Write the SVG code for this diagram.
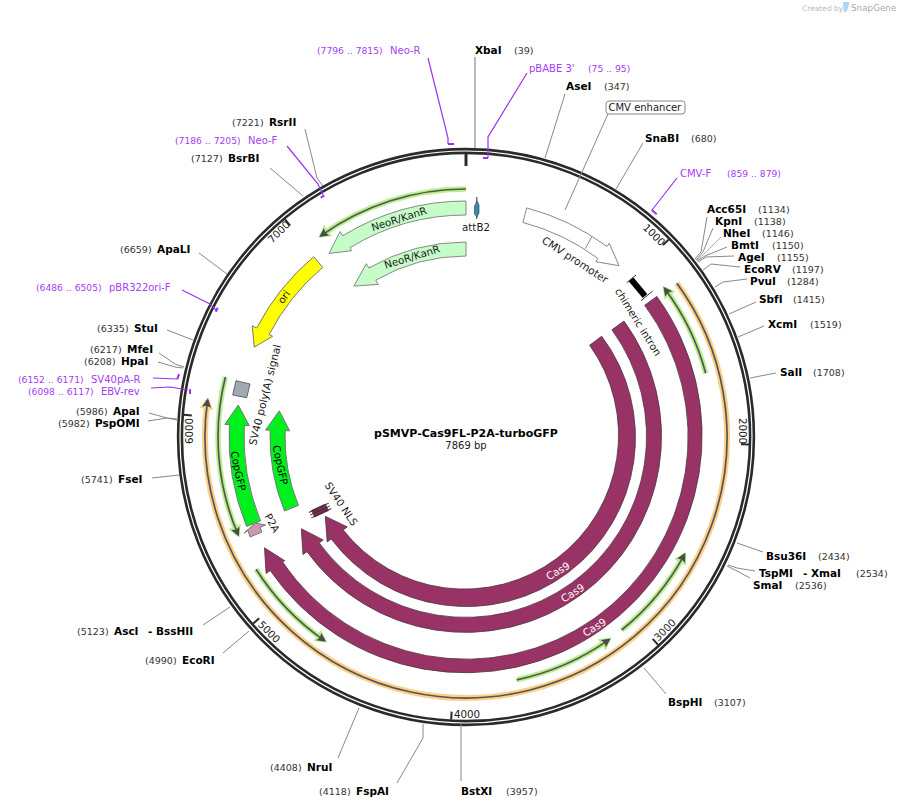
<svg xmlns="http://www.w3.org/2000/svg" width="900" height="808" viewBox="0 0 900 808">
<style>
text{font-family:"DejaVu Sans","Liberation Sans",sans-serif;font-size:10.3px;fill:#1a1a1a}
.s{font-weight:bold;font-size:10.5px;fill:#000}
.n{font-size:9.5px;fill:#333}
.p{font-size:10px;fill:#a63cf2}
.pn{font-size:9.2px;fill:#a63cf2}
.m{text-anchor:middle}
.lead{fill:none;stroke:#888;stroke-width:1}
.pl{fill:none;stroke:#9b30f0;stroke-width:1.2}
.pb{fill:none;stroke:#9b30f0;stroke-width:2}
.tick{stroke:#2a2a2a;stroke-width:2}
.cas{fill:#993366;stroke:#4a3340;stroke-width:.8}
.neo{fill:#c6fcc8;stroke:#888;stroke-width:1}
.gfp{fill:#00f01e;stroke:#777;stroke-width:1}
.ghalo{fill:none;stroke:#b8f08c;stroke-width:5.5;marker-end:url(#hg)}
.ohalo{fill:none;stroke:#fdd089;stroke-width:6;marker-end:url(#ho)}
.line{fill:none;stroke:#555;stroke-width:1.7;marker-end:url(#hd)}
</style>
<defs>
<marker id="hd" markerUnits="userSpaceOnUse" markerWidth="12" markerHeight="12" refX="7" refY="4.5" orient="auto"><path d="M0,0 L9,4.5 L0,9 L1.5,4.5 Z" fill="#4a4a4a"/></marker>
<marker id="hg" markerUnits="userSpaceOnUse" markerWidth="20" markerHeight="20" refX="9" refY="7" orient="auto"><path d="M0,0 L12,7 L0,14 Z" fill="#b8f08c"/></marker>
<marker id="ho" markerUnits="userSpaceOnUse" markerWidth="20" markerHeight="20" refX="9" refY="7" orient="auto"><path d="M0,0 L12,7 L0,14 Z" fill="#fdd089"/></marker>
</defs>
<rect width="900" height="808" fill="#fff"/>
<g id="watermark">
<text x="802" y="11" style="font-size:7.5px;fill:#b9b9b9">Created by</text>
<path d="M843,2 L849,2 Q849,8 846,12 L844,12 Z" fill="#a8d8f0"/>
<text x="851" y="11" style="font-size:8.8px;fill:#aaa">SnapGene</text>
</g>
<g id="backbone">
<circle cx="466" cy="437" r="286" fill="none" stroke="#2a2a2a" stroke-width="6.4"/>
<circle cx="466" cy="437" r="286" fill="none" stroke="#fff" stroke-width="1.2"/>
<line x1="466" y1="154" x2="466" y2="166" stroke="#2a2a2a" stroke-width="3"/>
<line class="tick" x1="466" y1="154" x2="466" y2="162" transform="rotate(45.75 466 437)"/>
<line class="tick" x1="466" y1="154" x2="466" y2="162" transform="rotate(91.5 466 437)"/>
<line class="tick" x1="466" y1="154" x2="466" y2="162" transform="rotate(137.25 466 437)"/>
<line class="tick" x1="466" y1="154" x2="466" y2="162" transform="rotate(183 466 437)"/>
<line class="tick" x1="466" y1="154" x2="466" y2="162" transform="rotate(228.75 466 437)"/>
<line class="tick" x1="466" y1="154" x2="466" y2="162" transform="rotate(274.5 466 437)"/>
<line class="tick" x1="466" y1="154" x2="466" y2="162" transform="rotate(320.25 466 437)"/>
<text class="m" transform="translate(654,235) rotate(45)" y="3.5">1000</text>
<text class="m" transform="translate(742,431) rotate(90)" y="3.5">2000</text>
<text class="m" transform="translate(665,630) rotate(-45)" y="3.5">3000</text>
<text class="m" transform="translate(467,714)" y="3.5">4000</text>
<text class="m" transform="translate(269,632) rotate(45)" y="3.5">5000</text>
<text class="m" transform="translate(189,431) rotate(-90)" y="3.5">6000</text>
<text class="m" transform="translate(279,232) rotate(-45)" y="3.5">7000</text>
</g>
<g id="connectors">
<polyline points="475,57 475,148" fill="none" stroke="#aaa" stroke-width="1.6"/>
<polyline class="lead" points="565,94 545,158"/>
<polyline class="lead" points="608,114 565,210"/>
<polyline class="lead" points="643,143 616,189"/>
<polyline class="lead" points="707,217 701,252 695,259"/>
<polyline class="lead" points="713,228 703,252 696,260"/>
<polyline class="lead" points="721,237 704,254 697,260" style="stroke:#aaa"/>
<polyline class="lead" points="727,247 705,256 697,261"/>
<polyline class="lead" points="734,256 706,257 698,262"/>
<polyline class="lead" points="740,267 711,264 703,270"/>
<polyline class="lead" points="747,279 723,282 715,287"/>
<polyline class="lead" points="756,302 729,314"/>
<polyline class="lead" points="764,326 738,337"/>
<polyline class="lead" points="776,373 750,378"/>
<polyline class="lead" points="763,552 737,543"/>
<polyline class="lead" points="755,571 737,568 728,565"/>
<polyline class="lead" points="750,578 737,571 727,566"/>
<polyline class="lead" points="666,694 644,668"/>
<polyline class="lead" points="461,781 461,724"/>
<polyline class="lead" points="397,783 423,738 423,724"/>
<polyline class="lead" points="338,758 359,708"/>
<polyline class="lead" points="223,653 249,631"/>
<polyline class="lead" points="203,625 230,607"/>
<polyline class="lead" points="152,478 179,475"/>
<polyline class="lead" points="148,421 167,418 177,419"/>
<polyline class="lead" points="149,413 167,418 177,420"/>
<polyline class="lead" points="158,362 175,367 183,368"/>
<polyline class="lead" points="159,353 175,364 184,367"/>
<polyline class="lead" points="167,330 193,340"/>
<polyline class="lead" points="199,253 227,274"/>
<polyline class="lead" points="270,168 303,196"/>
<polyline class="lead" points="305,129 317,178 323,186"/>
<polyline class="pl" points="428,58 448,138 448,144"/>
<polyline class="pl" points="527,73 488,137 488,158"/>
<polyline class="pl" points="287,146 318,184 323,195"/>
<polyline class="pl" points="677,178 652,210"/>
<polyline class="pl" points="182,290 210,304 217,311"/>
<polyline class="pl" points="153,378 177,379"/>
<polyline class="pl" points="151,388 170,387 188,390"/>
</g>
<g id="f-orf1"><path class="ohalo" d="M676.9,283.2 A261,261 0 1 1 207.6,400.2"/><path class="line" d="M676.9,283.2 A261,261 0 1 1 207.6,400.2"/></g>
<g id="f-orf2"><path class="ghalo" d="M466,189 A248,248 0 0 0 320.9,235.8"/><path class="line" d="M466,189 A248,248 0 0 0 320.9,235.8"/></g>
<g id="f-orf3"><path class="ghalo" d="M705.7,373.2 A248,248 0 0 0 664.6,288.4"/><path class="line" d="M705.7,373.2 A248,248 0 0 0 664.6,288.4"/></g>
<g id="f-orf4"><path class="ghalo" d="M621.7,630 A248,248 0 0 0 684.4,554.6"/><path class="line" d="M621.7,630 A248,248 0 0 0 684.4,554.6"/></g>
<g id="f-orf5"><path class="ghalo" d="M516.7,679.8 A248,248 0 0 0 609,639.6"/><path class="line" d="M516.7,679.8 A248,248 0 0 0 609,639.6"/></g>
<g id="f-orf6"><path class="ghalo" d="M256.1,569.2 A248,248 0 0 0 324.5,640.6"/><path class="line" d="M256.1,569.2 A248,248 0 0 0 324.5,640.6"/></g>
<g id="f-orf7"><path class="ghalo" d="M225.4,377 A248,248 0 0 0 238.1,534.7"/><path class="line" d="M225.4,377 A248,248 0 0 0 238.1,534.7"/></g>
<g id="cas9-outer">
<path class="cas" d="M656.8,296.4 A237,237 0 1 1 270.2,570.6 L266.1,573.4 L264.5,547.8 L284.7,560.7 L282.6,562.1 A222,222 0 1 0 644.7,305.3 Z"/>
<text class="m" transform="translate(594.5,627.5) rotate(-31)" y="3.5" style="fill:#fff">Cas9</text>
</g>
<g id="cas9-middle">
<path class="cas" d="M624,321 A196,196 0 1 1 307,551.7 L303,554.6 L301.3,528.7 L323.2,540 L319.2,542.9 A181,181 0 1 0 611.9,329.8 Z"/>
<text class="m" transform="translate(572.7,593) rotate(-32)" y="3.5" style="fill:#fff">Cas9</text>
</g>
<g id="cas9-inner">
<path class="cas" d="M601.7,336.2 A169,169 0 0 1 331.2,538.9 L327.2,542 L325.3,516.3 L347.2,526.9 L343.2,529.9 A154,154 0 0 0 589.6,345.2 Z"/>
<text class="m" transform="translate(558,571) rotate(-30)" y="3.5" style="fill:#fff">Cas9</text>
</g>
<g id="neo-outer">
<path class="neo" d="M466,201 A236,236 0 0 0 342.7,235.8 L340.1,231.5 L329.1,253.4 L351.8,250.7 L350,247.7 A222,222 0 0 1 466,215 Z"/>
<text class="m" transform="translate(399,219) rotate(-18)" y="3.5">NeoR/KanR</text>
</g>
<g id="neo-inner">
<path class="neo" d="M466,242 A195,195 0 0 0 368.8,268 L366.3,263.6 L353.9,286.1 L378.3,284.4 L375.8,280.1 A181,181 0 0 1 466,256 Z"/>
<text class="m" transform="translate(412,257) rotate(-17)" y="3.5">NeoR/KanR</text>
</g>
<g id="ori">
<path d="M313.7,256.7 A236,236 0 0 0 256.7,328 L252.2,325.7 L254.3,347.1 L272.6,336.3 L269.1,334.5 A222,222 0 0 1 322.7,267.4 Z" fill="#ffff00" stroke="#777" stroke-width="1"/>
<text class="m" transform="translate(284,297) rotate(-54)" y="3.5">ori</text>
</g>
<g id="copgfp-outer">
<path class="gfp" d="M246.6,526.5 A237,237 0 0 1 229.3,424.6 L224.8,424.4 L238.2,405 L249.3,425.7 L244.3,425.4 A222,222 0 0 0 260.5,520.9 Z"/>
<text class="m" transform="translate(238,471) rotate(78)" y="3.5" style="fill:#000">CopGFP</text>
</g>
<g id="copgfp-inner">
<path class="gfp" d="M284.5,511 A196,196 0 0 1 270.1,430.2 L265.6,430 L279.3,410.8 L289.6,430.8 L285.1,430.7 A181,181 0 0 0 298.4,505.4 Z"/>
<text class="m" transform="translate(280,465) rotate(78)" y="3.5" style="fill:#000">CopGFP</text>
</g>
<g id="p2a">
<path d="M255.5,523 L265.5,525 L260,527.5 L262,532 L250,537 L248,530.5 L244,533 Z" fill="#cc99b3" stroke="#777" stroke-width="1"/>
<text class="m" transform="translate(272,523) rotate(62)" y="3.5">P2A</text>
</g>
<g id="sv40-nls">
<g transform="translate(320,510.5) rotate(-25)">
<rect x="-8" y="-4" width="16" height="8" fill="#7d2a58"/>
<path d="M-11,-3H11M-11,0H11M-11,3H11" stroke="#333" stroke-width="1" fill="none"/>
</g>
<text class="m" transform="translate(341,504) rotate(56)" y="3.5">SV40 NLS</text>
</g>
<g id="polya">
<polygon points="236,380.7 250,384 246.7,397.7 232.7,395" fill="#a2a9b5" stroke="#666" stroke-width="1"/>
<text class="m" transform="translate(265,395) rotate(-76)" y="3.5" style="font-size:10.6px">SV40 poly(A) signal</text>
</g>
<g id="attb2">
<line x1="476.8" y1="197" x2="476.8" y2="219" stroke="#333" stroke-width="1"/>
<polygon points="477,201 479,205 479,213 477,217 474.5,214 474.5,206" fill="#2e8fa8" stroke="#335" stroke-width=".6"/>
<text class="m" x="476" y="231">attB2</text>
</g>
<g id="cmv-promoter">
<path d="M526.7,207.9 A237,237 0 0 1 607,246.5 L609.3,243.3 L619,265.7 L595.7,261.7 L598,258.5 A222,222 0 0 0 522.9,222.4 Z" fill="#fff" stroke="#888" stroke-width="1"/>
<line x1="591.7" y1="237" x2="585.3" y2="248.7" stroke="#888" stroke-width="1"/>
<text class="m" transform="translate(575,260) rotate(33)" y="3.5" style="font-size:10.6px">CMV promoter</text>
</g>
<g id="chimeric-intron">
<line x1="631" y1="279.3" x2="645" y2="296" stroke="#000" stroke-width="6"/>
<line x1="626.7" y1="282.7" x2="636" y2="275" stroke="#333" stroke-width="1"/>
<line x1="641" y1="300.7" x2="652.7" y2="291" stroke="#333" stroke-width="1"/>
<text class="m" transform="translate(638,322) rotate(58)" y="3.5">chimeric intron</text>
</g>
<g id="cmv-enhancer">
<rect x="606" y="101" width="79" height="13" rx="3" fill="#fff" stroke="#888" stroke-width="1"/>
<text x="608.5" y="111" style="font-size:10px">CMV enhancer</text>
</g>
<g id="title">
<text class="m" x="466" y="437" style="font-weight:bold;font-size:11px;fill:#000">pSMVP-Cas9FL-P2A-turboGFP</text>
<text class="m" x="466" y="449" style="font-size:10px">7869 bp</text>
</g>
<g id="primers">
<g id="p-neor"><path class="pb" d="M448,144H454"/><text class="pn" x="317" y="54">(7796 .. 7815)</text><text class="p" x="390" y="54">Neo-R</text></g>
<g id="p-pbabe"><path class="pb" d="M483,158H488"/><text class="p" x="529" y="72">pBABE 3'</text><text class="pn" x="588" y="72">(75 .. 95)</text></g>
<g id="p-neof"><path class="pb" d="M320.7,197.7L324.3,195.7"/><text class="pn" x="175" y="144">(7186 .. 7205)</text><text class="p" x="248" y="144">Neo-F</text></g>
<g id="p-cmvf"><path class="pb" d="M651.7,210L656.7,214.3"/><text class="p" x="680" y="177">CMV-F</text><text class="pn" x="727" y="177">(859 .. 879)</text></g>
<g id="p-pbr"><path class="pb" d="M215.7,311.7L217.7,307.7"/><text class="pn" x="36" y="291">(6486 .. 6505)</text><text class="p" x="109" y="291">pBR322ori-F</text></g>
<g id="p-sv40"><path class="pb" d="M177.3,379.3L179,374"/><text class="pn" x="18" y="383">(6152 .. 6171)</text><text class="p" x="91" y="383">SV40pA-R</text></g>
<g id="p-ebv"><path class="pb" d="M190,389.3V394"/><text class="pn" x="28" y="395">(6098 .. 6117)</text><text class="p" x="101" y="395">EBV-rev</text></g>
</g>
<g id="sites">
<g id="s-xbai"><text class="s" x="475" y="54">XbaI</text><text class="n" x="514" y="54">(39)</text></g>
<g id="s-asei"><text class="s" x="566" y="90">AseI</text><text class="n" x="604" y="90">(347)</text></g>
<g id="s-snabi"><text class="s" x="645" y="142">SnaBI</text><text class="n" x="691" y="142">(680)</text></g>
<g id="s-acc65i"><text class="s" x="707" y="213">Acc65I</text><text class="n" x="758" y="213">(1134)</text></g>
<g id="s-kpni"><text class="s" x="715" y="225">KpnI</text><text class="n" x="754" y="225">(1138)</text></g>
<g id="s-nhei"><text class="s" x="723" y="237">NheI</text><text class="n" x="762" y="237">(1146)</text></g>
<g id="s-bmti"><text class="s" x="731" y="249">BmtI</text><text class="n" x="772" y="249">(1150)</text></g>
<g id="s-agei"><text class="s" x="738" y="261">AgeI</text><text class="n" x="777" y="261">(1155)</text></g>
<g id="s-ecorv"><text class="s" x="744" y="273">EcoRV</text><text class="n" x="792" y="273">(1197)</text></g>
<g id="s-pvui"><text class="s" x="750" y="285">PvuI</text><text class="n" x="787" y="285">(1284)</text></g>
<g id="s-sbfi"><text class="s" x="759" y="303">SbfI</text><text class="n" x="793" y="303">(1415)</text></g>
<g id="s-xcmi"><text class="s" x="768" y="328">XcmI</text><text class="n" x="810" y="328">(1519)</text></g>
<g id="s-sali"><text class="s" x="780" y="376">SalI</text><text class="n" x="813" y="376">(1708)</text></g>
<g id="s-bsu36i"><text class="s" x="766" y="560">Bsu36I</text><text class="n" x="818" y="560">(2434)</text></g>
<g id="s-tspmi"><text class="s" x="759" y="577">TspMI</text><text class="s" x="803" y="577">-</text><text class="s" x="811" y="577">XmaI</text><text class="n" x="856" y="577">(2534)</text></g>
<g id="s-smai"><text class="s" x="753" y="589">SmaI</text><text class="n" x="795" y="589">(2536)</text></g>
<g id="s-bsphi"><text class="s" x="668" y="706">BspHI</text><text class="n" x="714" y="706">(3107)</text></g>
<g id="s-bstxi"><text class="s" x="461" y="795">BstXI</text><text class="n" x="506" y="795">(3957)</text></g>
<g id="s-fspai"><text class="n" x="319" y="795">(4118)</text><text class="s" x="356" y="795">FspAI</text></g>
<g id="s-nrui"><text class="n" x="270" y="771">(4408)</text><text class="s" x="307" y="771">NruI</text></g>
<g id="s-ecori"><text class="n" x="145" y="664">(4990)</text><text class="s" x="182" y="664">EcoRI</text></g>
<g id="s-asci"><text class="n" x="77" y="635">(5123)</text><text class="s" x="114" y="635">AscI</text><text class="s" x="148" y="635">-</text><text class="s" x="156" y="635">BssHII</text></g>
<g id="s-fsei"><text class="n" x="81" y="483">(5741)</text><text class="s" x="118" y="483">FseI</text></g>
<g id="s-pspomi"><text class="n" x="58" y="427">(5982)</text><text class="s" x="95" y="427">PspOMI</text></g>
<g id="s-apai"><text class="n" x="76" y="415">(5986)</text><text class="s" x="113" y="415">ApaI</text></g>
<g id="s-hpai"><text class="n" x="84" y="365">(6208)</text><text class="s" x="121" y="365">HpaI</text></g>
<g id="s-mfei"><text class="n" x="90" y="353">(6217)</text><text class="s" x="127" y="353">MfeI</text></g>
<g id="s-stui"><text class="n" x="97" y="332">(6335)</text><text class="s" x="134" y="332">StuI</text></g>
<g id="s-apali"><text class="n" x="120" y="253">(6659)</text><text class="s" x="157" y="253">ApaLI</text></g>
<g id="s-bsrbi"><text class="n" x="191" y="162">(7127)</text><text class="s" x="228" y="162">BsrBI</text></g>
<g id="s-rsrii"><text class="n" x="232" y="126">(7221)</text><text class="s" x="269" y="126">RsrII</text></g>
</g>
</svg>
